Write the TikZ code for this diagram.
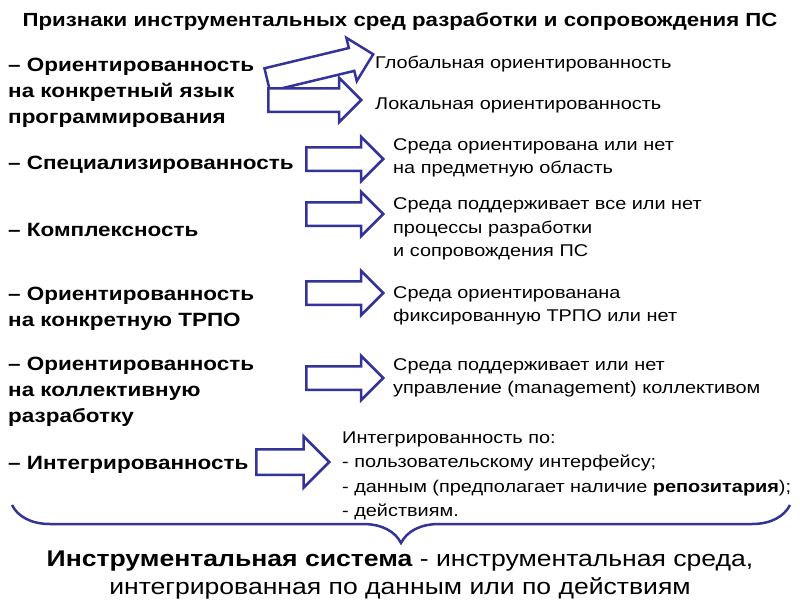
\documentclass[tikz,border=0pt]{standalone}
\usepackage{fontspec}
\setmainfont[FakeStretch=1.17]{Liberation Sans}
\usetikzlibrary{shapes.arrows,decorations.pathreplacing,positioning}
\definecolor{navy}{HTML}{333399}
\tikzset{
  blockarrow/.style={single arrow,draw=navy,line width=2.5pt,fill=white,inner sep=0pt,
    text height=10.5pt,text depth=10.5pt,single arrow head extend=10.5pt,anchor=tail},
  sign/.style={anchor=west,align=left,inner sep=0pt,font=\fontsize{19.2}{26}\selectfont\bfseries},
  note/.style={anchor=west,align=left,inner sep=0pt,font=\fontsize{17}{23.3}\selectfont},
  bracecurve/.style={decorate,decoration={brace,amplitude=38pt},draw=navy,line width=2.5pt}
}
\begin{document}
\begin{tikzpicture}[x=1pt,y=-1pt]
  \useasboundingbox (0,0) rectangle (800,600);
  \node[font=\fontsize{19}{23}\selectfont\bfseries] (title) at (400,22)
    {Признаки инструментальных сред разработки и сопровождения ПС};

  \node[sign] (lang) at (8,93) {– Ориентированность\\на конкретный язык\\программирования};
  \node[sign] (spec) at (8,165) {– Специализированность};
  \node[sign] (compl) at (8,230) {– Комплексность};
  \node[sign] (trpo) at (8,309) {– Ориентированность\\на конкретную ТРПО};
  \node[sign] (team) at (8,392) {– Ориентированность\\на коллективную\\разработку};
  \node[sign] (integ) at (8,465) {– Интегрированность};

  \node[note] (glob) at (375,64) {Глобальная ориентированность};
  \node[note] (loc) at (375,105) {Локальная ориентированность};
  \node[note] (specn) at (393,157.5) {Среда ориентирована или нет\\на предметную область};
  \node[note] (compln) at (393,229) {Среда поддерживает все или нет\\процессы разработки\\и сопровождения ПС};
  \node[note] (trpon) at (393,305.5) {Среда ориентированана\\фиксированную ТРПО или нет};
  \node[note] (teamn) at (393,378) {Среда поддерживает или нет\\управление (management) коллективом};
  \node[note,font=\fontsize{17}{24.4}\selectfont] (integn) at (342,476)
    {Интегрированность по:\\- пользовательскому интерфейсу;\\- данным (предполагает наличие \textbf{репозитария});\\- действиям.};

  \node[blockarrow,minimum height=109pt,rotate=13.5] (aglob) at (266,80) {};
  \node[blockarrow,minimum height=93pt] (aloc) at (267,100) {};
  \node[blockarrow,minimum height=77pt] (aspec) at (305,159) {};
  \node[blockarrow,minimum height=77pt] (acompl) at (305,214) {};
  \node[blockarrow,minimum height=77pt] (atrpo) at (305,293) {};
  \node[blockarrow,minimum height=77pt] (ateam) at (305,378) {};
  \node[blockarrow,minimum height=73pt,text height=11.5pt,text depth=11.5pt,
    single arrow head extend=13pt] (ainteg) at (255,462) {};

  \coordinate (bl) at (12,505);
  \coordinate (br) at (790,505);
  \draw[bracecurve] (br) -- (bl);
  \node[align=center,font=\fontsize{22.7}{28.5}\selectfont] (sys) at (400,575)
    {\textbf{Инструментальная система} - инструментальная среда,\\интегрированная по данным или по действиям};
\end{tikzpicture}
\end{document}
